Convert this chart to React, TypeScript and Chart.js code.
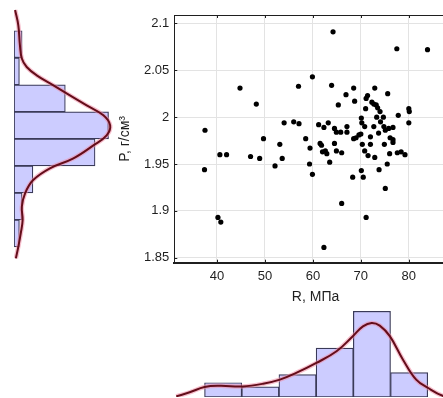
import React, { useEffect, useRef } from 'react';
import { Chart, registerables } from 'chart.js';

Chart.register(...registerables);

// ---- data ----
const rValues = [
  37.5, 44.8, 48.2, 49.7, 53.1, 54.0, 56.0, 57.1, 57.0, 58.5,
  59.9, 59.4, 64.2, 63.9, 65.3, 61.2, 62.3, 63.2, 61.5, 61.8,
  64.5, 64.9, 65.8, 64.5, 67.1, 67.1, 66.9, 68.5, 68.7, 68.5,
  69.0, 69.6, 70.0, 70.1, 70.2, 70.8, 70.3, 71.1, 71.4, 71.0,
  72.0, 72.0, 72.3, 72.9, 72.7, 73.2, 73.5, 74.0, 73.3, 72.7,
  73.7, 74.1, 74.7, 74.8, 75.1, 75.8, 76.7, 76.1, 76.7, 76.7,
  74.9, 75.6, 77.5, 83.9, 77.8, 80.0, 80.1, 80.0, 37.4, 40.6,
  42.0, 40.2, 40.8, 47.0, 48.9, 52.1, 53.6, 59.3, 59.9, 62.0,
  62.6, 63.5, 62.3, 64.9, 66.0, 66.0, 68.3, 70.1, 70.5, 70.8,
  71.5, 71.1, 72.9, 73.8, 75.5, 75.1, 76.0, 77.6, 78.4, 79.2,
  62.9,
];
const pValues = [
  1.986, 2.031, 2.014, 1.977, 1.971, 1.994, 1.995, 1.993, 2.033, 1.977,
  2.043, 1.967, 2.091, 2.034, 2.013, 1.992, 1.989, 1.994, 1.972, 1.970,
  1.988, 1.984, 1.984, 1.972, 1.990, 1.984, 2.024, 2.031, 2.017, 1.977,
  1.978, 1.981, 1.982, 1.999, 1.994, 1.990, 1.971, 2.020, 2.023, 2.009,
  1.979, 1.971, 2.016, 2.031, 2.014, 2.013, 2.010, 2.006, 2.000, 1.990,
  1.983, 1.995, 2.000, 1.990, 1.986, 1.988, 1.989, 1.978, 1.976, 1.973,
  1.971, 2.025, 2.073, 2.072, 2.002, 2.009, 2.006, 1.994, 1.944, 1.960,
  1.960, 1.893, 1.888, 1.958, 1.956, 1.948, 1.956, 1.950, 1.939, 1.963,
  1.964, 1.952, 1.861, 1.964, 1.962, 1.908, 1.936, 1.943, 1.936, 1.964,
  1.959, 1.893, 1.957, 1.944, 1.950, 1.924, 1.961, 1.962, 1.963, 1.960,
  1.961,
];

const xTicks = [40, 50, 60, 70, 80, 90];
const yTicks = [1.85, 1.9, 1.95, 2, 2.05, 2.1];

// bottom histogram of R
const rBinEdges = [37.4, 45.15, 52.9, 60.65, 68.4, 76.15, 83.9];
const rCounts = [7, 5, 11, 24, 42, 12];
const rKdeX = [31.5, 34.3, 37.4, 40.6, 45.3, 49.6, 53.1, 56.5, 60.7, 64.9, 68.3, 70.4, 72.2, 73.9, 76.0, 78.75, 81.5, 84.0, 87.0, 89.0];
const rKdeY = [0.3, 2.3, 4.9, 5.5, 5.2, 6.5, 8.5, 11.8, 16.7, 22.4, 29.8, 34.6, 36.3, 35.0, 29.8, 18.3, 8.5, 4.4, 0.6, 0.0];

// left histogram of P
const pBinEdges = [1.861, 1.8898, 1.9185, 1.9473, 1.976, 2.0048, 2.0335, 2.0623, 2.091];
const pCounts = [2, 3, 7, 30, 35, 19, 2, 3];
const pKdeP = [2.1131, 2.0968, 2.0755, 2.0614, 2.0524, 2.0436, 2.0329, 2.0222, 2.0116, 2.0010, 1.9903, 1.9797, 1.9691, 1.9553, 1.9447, 1.9322, 1.9181, 1.9038, 1.8897, 1.8755, 1.8613, 1.8489];
const pKdeC = [0.4, 1.6, 2.2, 2.9, 4.7, 8.4, 14.6, 20.7, 26.9, 33.1, 35.6, 34.3, 29.4, 22.0, 13.3, 7.1, 4.1, 2.9, 3.2, 2.5, 1.6, 0.7];

// ---- styles ----
const FONT = "'Liberation Sans', Arial, Helvetica, sans-serif";
const INK = '#1f1f1f';
const GRID = '#e3e3e3';
const BAR_FILL = 'rgb(204,204,255)';
const BAR_EDGE = '#3a3a58';
const KDE = '#640d1a';
const KDE_HALO = 'rgba(240,140,165,0.55)';

const boxPlugin = {
  id: 'boxPlugin',
  beforeDatasetsDraw(chart: any) {
    const { ctx, chartArea: a, scales } = chart;
    const seg = (x1: number, y1: number, x2: number, y2: number) => {
      ctx.beginPath();
      ctx.moveTo(x1, y1);
      ctx.lineTo(x2, y2);
      ctx.stroke();
    };
    ctx.save();
    ctx.strokeStyle = INK;
    ctx.lineWidth = 1;
    seg(a.left, a.top + 0.5, a.right, a.top + 0.5);
    const tl = 3;
    scales.x.ticks.forEach((t: any) => {
      const px = Math.round(scales.x.getPixelForValue(t.value)) + 0.5;
      seg(px, a.top, px, a.top + tl);
      seg(px, a.bottom, px, a.bottom - tl);
    });
    scales.y.ticks.forEach((t: any) => {
      const py = Math.round(scales.y.getPixelForValue(t.value)) + 0.5;
      seg(a.left, py, a.left + tl, py);
    });
    ctx.restore();
  },
};

const mid = (edges: number[], i: number) => (edges[i] + edges[i + 1]) / 2;

const kdeSets = (pts: { x: number; y: number }[]) => [
  { type: 'line', data: pts, borderColor: KDE, borderWidth: 2, pointRadius: 0, tension: 0.4, order: 0 },
  { type: 'line', data: pts, borderColor: KDE_HALO, borderWidth: 4.5, pointRadius: 0, tension: 0.4, order: 1 },
];

export default function App() {
  const leftRef = useRef<HTMLCanvasElement>(null);
  const mainRef = useRef<HTMLCanvasElement>(null);
  const bottomRef = useRef<HTMLCanvasElement>(null);

  useEffect(() => {
    Chart.defaults.font.family = FONT;
    Chart.defaults.color = INK;

    const main = new Chart(mainRef.current as HTMLCanvasElement, {
      type: 'scatter',
      data: {
        datasets: [
          {
            data: rValues.map((r, i) => ({ x: r, y: pValues[i] })),
            backgroundColor: '#000',
            borderWidth: 0,
            pointRadius: 2.6,
          },
        ],
      },
      options: {
        animation: false,
        responsive: false,
        events: [],
        layout: { padding: { top: 15, right: 13, left: 0, bottom: 0 } },
        plugins: { legend: { display: false }, tooltip: { enabled: false } },
        scales: {
          x: {
            type: 'linear',
            min: 31.1,
            max: 90,
            afterBuildTicks: (s: any) => { s.ticks = xTicks.map((v) => ({ value: v })); },
            afterFit: (s: any) => { s.height = 47.3; },
            grid: { color: GRID, drawTicks: false },
            border: { display: true, color: INK, width: 2 },
            ticks: { padding: 6, color: INK, font: { size: 13 }, callback: (v: any) => String(v), autoSkip: false, maxRotation: 0 },
            title: { display: true, text: 'R, МПа', color: INK, font: { size: 14 }, padding: { top: 0, bottom: 4.5 } },
          },
          y: {
            type: 'linear',
            min: 1.8447,
            max: 2.109,
            afterBuildTicks: (s: any) => { s.ticks = yTicks.map((v) => ({ value: v })); },
            afterFit: (s: any) => { s.width = 74.3; },
            grid: { color: GRID, drawTicks: false },
            border: { display: true, color: INK, width: 1 },
            ticks: { padding: 5, color: INK, font: { size: 13 }, callback: (v: any) => String(v), autoSkip: false },
            title: { display: true, text: 'P, г/см³', color: INK, font: { size: 14 }, padding: { top: 16.6, bottom: 0 } },
          },
        },
      } as any,
      plugins: [boxPlugin],
    });

    const bottom = new Chart(bottomRef.current as HTMLCanvasElement, {
      type: 'bar',
      data: {
        datasets: [
          ...kdeSets(rKdeX.map((x, i) => ({ x, y: rKdeY[i] }))),
          {
            type: 'bar',
            data: rCounts.map((c, i) => ({ x: mid(rBinEdges, i), y: c })),
            backgroundColor: BAR_FILL,
            borderColor: BAR_EDGE,
            borderWidth: 1.2,
            borderSkipped: false,
            barPercentage: 1,
            categoryPercentage: 1,
            order: 2,
          },
        ] as any,
      },
      options: {
        animation: false,
        responsive: false,
        events: [],
        layout: { padding: { left: 74.3, right: 13, top: 0, bottom: 1 } },
        plugins: { legend: { display: false }, tooltip: { enabled: false } },
        scales: {
          x: {
            type: 'linear', min: 31.1, max: 90, display: false, offset: false,
            afterBuildTicks: (s: any) => { s.ticks = rBinEdges.map((v) => ({ value: v })); },
          },
          y: { type: 'linear', min: 0, max: 49, display: false },
        },
      } as any,
    });

    const left = new Chart(leftRef.current as HTMLCanvasElement, {
      type: 'bar',
      data: {
        datasets: [
          ...kdeSets(pKdeP.map((p, i) => ({ x: pKdeC[i], y: p }))),
          {
            type: 'bar',
            data: pCounts.map((c, i) => ({ x: c, y: mid(pBinEdges, i) })),
            backgroundColor: BAR_FILL,
            borderColor: BAR_EDGE,
            borderWidth: 1.2,
            borderSkipped: false,
            barPercentage: 1,
            categoryPercentage: 1,
            order: 2,
          },
        ] as any,
      },
      options: {
        indexAxis: 'y',
        animation: false,
        responsive: false,
        events: [],
        layout: { padding: { left: 14, right: 0, top: 0, bottom: 0 } },
        plugins: { legend: { display: false }, tooltip: { enabled: false } },
        scales: {
          x: { type: 'linear', min: 0, max: 44.8, display: false },
          y: {
            type: 'linear', min: 1.8365, max: 2.1237, display: false, offset: false,
            afterBuildTicks: (s: any) => { s.ticks = pBinEdges.map((v) => ({ value: v })); },
          },
        },
      } as any,
    });

    return () => {
      main.destroy();
      bottom.destroy();
      left.destroy();
    };
  }, []);

  const abs = (left: number, top: number, w: number, h: number): React.CSSProperties => ({
    position: 'absolute', left, top, width: w, height: h,
  });

  return (
    <div style={{ position: 'fixed', left: 0, top: 0, width: 443, height: 398, overflow: 'hidden', background: '#fff' }}>
      <div style={abs(0, 0, 135, 270)}>
        <canvas ref={leftRef} width={135} height={270} style={{ width: 135, height: 270, display: 'block' }} />
      </div>
      <div style={abs(100, 0, 370, 310)}>
        <canvas ref={mainRef} width={370} height={310} style={{ width: 370, height: 310, display: 'block' }} />
      </div>
      <div style={abs(100, 297, 370, 101)}>
        <canvas ref={bottomRef} width={370} height={101} style={{ width: 370, height: 101, display: 'block' }} />
      </div>
    </div>
  );
}
